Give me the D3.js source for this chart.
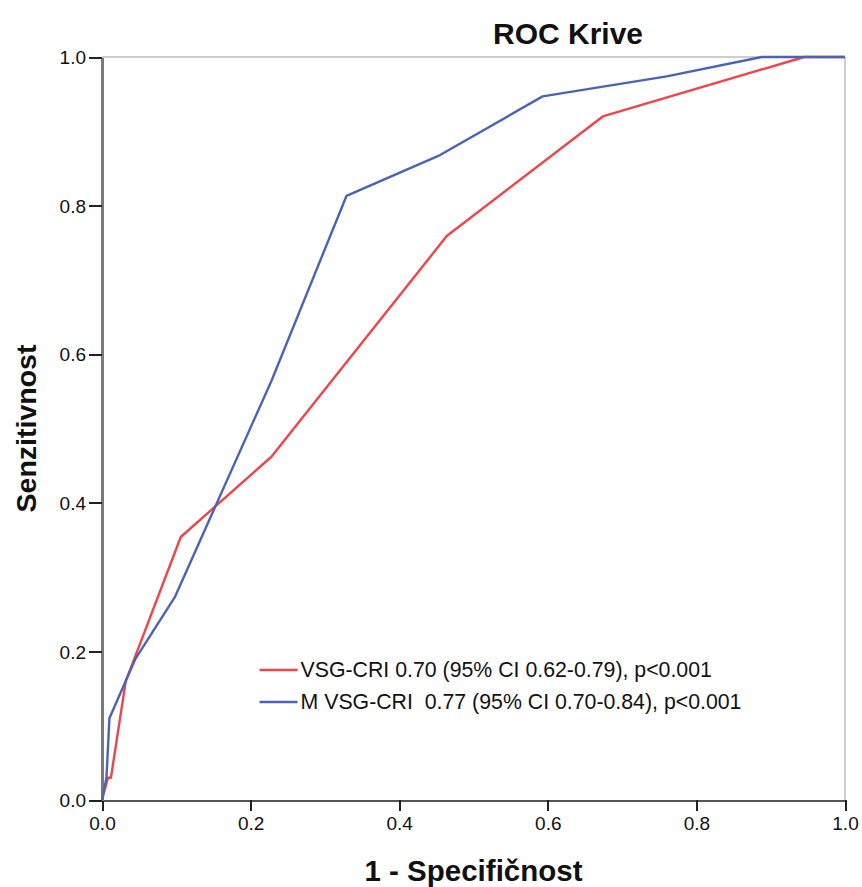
<!DOCTYPE html>
<html>
<head>
<meta charset="utf-8">
<script src="https://cdn.jsdelivr.net/npm/d3@7"></script>
<style>
  body { margin: 0; background: #fff; }
  text { font-family: "Liberation Sans", Arial, sans-serif; fill: #111; }
</style>
</head>
<body>
<div id="chart"></div>
<script>
// ROC curve data
const seriesNames = ["VSG-CRI 0.70 (95% CI 0.62-0.79), p<0.001",
                     "M VSG-CRI  0.77 (95% CI 0.70-0.84), p<0.001"];
const seriesColors = ["#f0434a", "#4b63b5"];

const redFpr  = [0, 0.008, 0.012, 0.032, 0.106, 0.228, 0.464, 0.674, 0.945, 1.0];
const redTpr  = [0, 0.030, 0.030, 0.160, 0.354, 0.462, 0.759, 0.920, 1.0, 1.0];

const blueFpr = [0, 0.006, 0.010, 0.045, 0.098, 0.228, 0.329, 0.455, 0.593, 0.760, 0.888, 1.0];
const blueTpr = [0, 0.030, 0.110, 0.190, 0.273, 0.564, 0.813, 0.868, 0.947, 0.974, 1.0, 1.0];

const tickValues = [0, 0.2, 0.4, 0.6, 0.8, 1.0];

const W = 862, H = 887;
const margin = {top: 57, right: 17, bottom: 87, left: 102};
const width = W - margin.left - margin.right;
const height = H - margin.top - margin.bottom;

const svg = d3.select("#chart").append("svg")
    .attr("width", W)
    .attr("height", H);

const g = svg.append("g")
    .attr("transform", `translate(${margin.left},${margin.top})`);

const x = d3.scaleLinear().domain([0, 1]).range([0, width]);
const y = d3.scaleLinear().domain([0, 1]).range([height, 0]);

// frame (top and right)
g.append("line").attr("x1", 0).attr("x2", width).attr("y1", 0).attr("y2", 0)
    .attr("stroke", "#bdbdbd").attr("stroke-width", 1.5);
g.append("line").attr("x1", width).attr("x2", width).attr("y1", 0).attr("y2", height)
    .attr("stroke", "#bdbdbd").attr("stroke-width", 1.5);

// axes
const xAxis = d3.axisBottom(x).tickValues(tickValues).tickFormat(d3.format(".1f"))
    .tickSize(11).tickSizeOuter(0).tickPadding(6);
const yAxis = d3.axisLeft(y).tickValues(tickValues).tickFormat(d3.format(".1f"))
    .tickSize(13).tickSizeOuter(0).tickPadding(3);

const gx = g.append("g").attr("transform", `translate(0,${height})`).call(xAxis);
gx.select(".domain").attr("stroke", "#555").attr("stroke-width", 2);
gx.selectAll(".tick line").attr("stroke", "#222").attr("stroke-width", 2);
gx.selectAll(".tick text").attr("font-size", 19).attr("fill", "#111");

const gy = g.append("g").call(yAxis);
gy.select(".domain").attr("stroke", "#7a7a7a").attr("stroke-width", 3);
gy.selectAll(".tick line").attr("stroke", "#222").attr("stroke-width", 2);
gy.selectAll(".tick text").attr("font-size", 19).attr("fill", "#111").attr("dy", "0.35em");

g.selectAll(".domain, .tick line").attr("shape-rendering", "crispEdges");

// curves
const series = [
    {fpr: redFpr, tpr: redTpr},
    {fpr: blueFpr, tpr: blueTpr}
].map((s, i) => ({
    name: seriesNames[i],
    color: seriesColors[i],
    values: s.fpr.map((f, j) => ({fpr: f, tpr: s.tpr[j]}))
}));

const line = d3.line().x(d => x(d.fpr)).y(d => y(d.tpr));

g.selectAll(".curve")
    .data(series)
    .enter().append("path")
    .attr("class", "curve")
    .attr("d", d => line(d.values))
    .attr("fill", "none")
    .attr("stroke", d => d.color)
    .attr("stroke-width", 2.4)
    .attr("stroke-linejoin", "round");

// legend
const legend = g.append("g").attr("transform", `translate(${x(0.212)},${y(0.175)})`);
const item = legend.selectAll(".item")
    .data(series)
    .enter().append("g")
    .attr("transform", (d, i) => `translate(0,${i * 32})`);
item.append("line")
    .attr("x1", 0).attr("x2", 38)
    .attr("stroke", d => d.color).attr("stroke-width", 2.5);
item.append("text")
    .attr("x", 41).attr("dy", "0.35em")
    .attr("font-size", 21.3)
    .attr("xml:space", "preserve")
    .style("white-space", "pre")
    .text(d => d.name);

// titles
svg.append("text")
    .attr("x", 568).attr("y", 44)
    .attr("text-anchor", "middle")
    .attr("font-size", 30).attr("font-weight", "bold")
    .text("ROC Krive");

svg.append("text")
    .attr("x", margin.left + width / 2).attr("y", 881)
    .attr("text-anchor", "middle")
    .attr("font-size", 29.5).attr("font-weight", "bold")
    .text("1 - Specifičnost");

svg.append("text")
    .attr("transform", `translate(36,${margin.top + height / 2}) rotate(-90)`)
    .attr("text-anchor", "middle")
    .attr("font-size", 28.5).attr("font-weight", "bold")
    .text("Senzitivnost");
</script>
</body>
</html>
